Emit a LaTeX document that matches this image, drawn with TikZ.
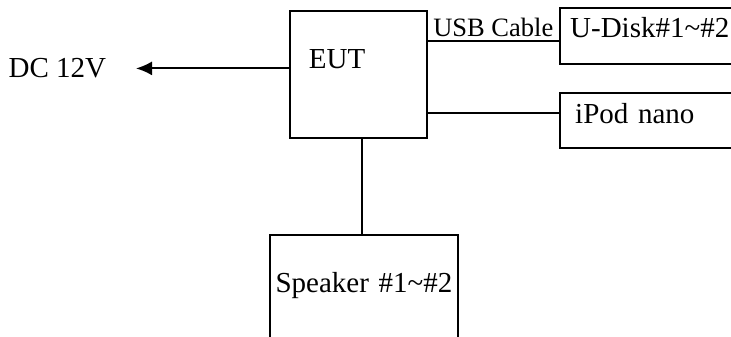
\documentclass[tikz,border=0pt]{standalone}
\usepackage{fontspec}
\setmainfont{Liberation Serif}
\usetikzlibrary{arrows.meta}
\usetikzlibrary{positioning}
\usetikzlibrary{calc}

\begin{document}
\begin{tikzpicture}[
	x=1pt, y=-1pt,
	rect/.style={
		draw,
		rectangle,
		inner ysep=0pt,
		align=left,
	},
	txt/.style={
		inner sep=0pt,
	},
	font=\fontsize{29}{34}\selectfont,
	line width=1.8pt,
	>={Latex[length=16pt,width=14pt]},
]
\useasboundingbox (0,0) rectangle (731,337);

\node [rect, anchor=north west, inner xsep=19pt, text width=99pt, text height=58pt, text depth=69pt] (eut) at (289,10) {EUT};
%
\node [txt, left=182pt of eut.west, yshift=6pt] (dc) {DC 12V};
%
\node [rect, right=131pt of eut.north east, anchor=north west, yshift=3pt, inner xsep=10.5pt, text width=200pt, text height=30pt, text depth=26pt] (udisk) {U-Disk\#1\textasciitilde\#2};
\node [rect, below=27pt of udisk.south west, anchor=north west, inner xsep=15.5pt, text width=200pt, text height=31pt, text depth=24pt] (ipod) {iPod nano};
%
\node [rect, below=95pt of eut.south west, anchor=north west, xshift=-20pt, align=center, inner xsep=4pt, text width=180pt, text height=58pt, text depth=80pt] (speaker) {Speaker \#1\textasciitilde\#2};

\coordinate (usb) at ([yshift=-5pt]udisk.west);
\coordinate (pod) at ([yshift=7.5pt]ipod.west);
\coordinate (spkin) at ([xshift=-2pt]speaker.north);

\draw [->, shorten >=29pt] (dc -| eut.west) -- (dc);
\draw (eut.east |- usb) -- node [txt, above=3pt, font=\fontsize{26.5}{30}\selectfont] (usblabel) {USB Cable} (usb);
\draw (eut.east |- pod) -- (pod);
\draw (eut.south -| spkin) -- (spkin);
\end{tikzpicture}
\end{document}
